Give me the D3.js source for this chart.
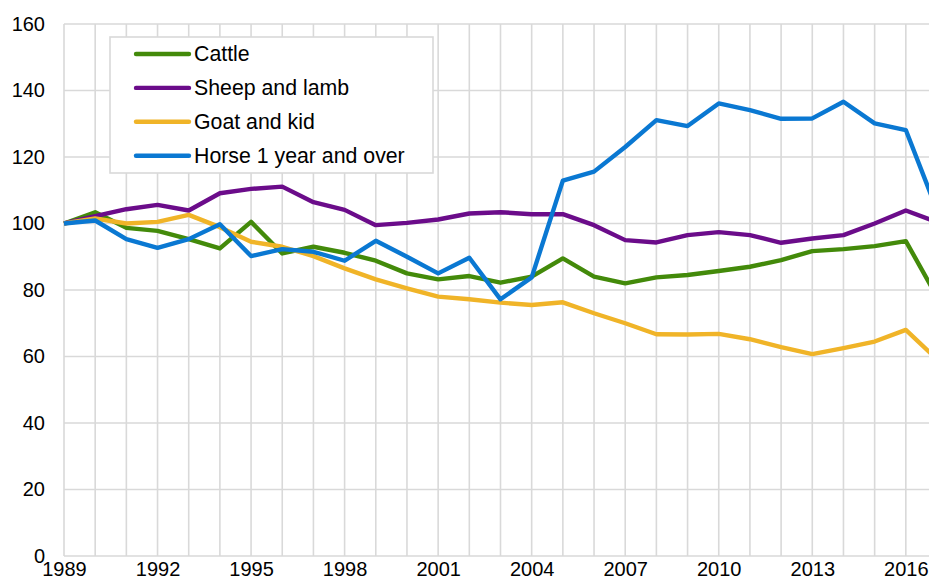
<!DOCTYPE html>
<html>
<head>
<meta charset="utf-8">
<script src="https://cdn.jsdelivr.net/npm/d3@7"></script>
<style>
  html, body { margin: 0; padding: 0; background: #fff; overflow: hidden; }
  svg { display: block; font-family: "Liberation Sans", Arial, sans-serif; }
</style>
</head>
<body>
<svg id="chart" width="929" height="581"></svg>
<script>
const years = d3.range(1989, 2018);
const xTickLabels = [1989, 1992, 1995, 1998, 2001, 2004, 2007, 2010, 2013, 2016];
const yTicks = [0, 20, 40, 60, 80, 100, 120, 140, 160];

const seriesNames = ["Cattle", "Sheep and lamb", "Goat and kid", "Horse 1 year and over"];
const seriesColors = ["#438a0a", "#6b0c8a", "#f0b428", "#0a78d2"];

const cattle = [100, 103.4, 98.7, 97.8, 95.3, 92.5, 100.5, 91.0, 93.0, 91.2, 88.8, 85.0, 83.2, 84.2, 82.2, 84.0, 89.5, 84.0, 82.0, 83.8, 84.5, 85.7, 87.0, 89.0, 91.7, 92.3, 93.2, 94.7, 78.0];
const sheep = [100, 102.2, 104.3, 105.6, 103.9, 109.1, 110.4, 111.1, 106.4, 104.1, 99.5, 100.2, 101.2, 103.0, 103.4, 102.8, 102.8, 99.5, 95.0, 94.3, 96.5, 97.4, 96.5, 94.2, 95.5, 96.5, 100.0, 103.9, 100.4];
const goat = [100, 101.5, 100.0, 100.5, 102.6, 98.9, 94.5, 93.0, 90.2, 86.5, 83.2, 80.5, 78.0, 77.2, 76.2, 75.5, 76.3, 73.0, 70.0, 66.7, 66.6, 66.8, 65.2, 62.8, 60.7, 62.5, 64.5, 68.0, 59.2];
const horse = [100, 100.9, 95.3, 92.7, 95.3, 99.8, 90.2, 92.3, 91.5, 88.8, 94.8, 90.0, 85.0, 89.7, 77.2, 83.8, 112.9, 115.6, 123.0, 131.1, 129.3, 136.1, 134.1, 131.5, 131.6, 136.6, 130.1, 128.1, 104.0];

const seriesValues = [cattle, sheep, goat, horse];

const svg = d3.select("#chart");
const x = d3.scaleLinear().domain([1989, 2017]).range([64, 937]);
const y = d3.scaleLinear().domain([0, 160]).range([556, 24]);
const gridColor = "#d9d9d9";

// vertical gridlines
svg.append("g").selectAll("line").data(years).join("line")
  .attr("x1", d => x(d)).attr("x2", d => x(d))
  .attr("y1", y(160)).attr("y2", y(0))
  .attr("stroke", gridColor).attr("stroke-width", 1.6);

// horizontal gridlines
svg.append("g").selectAll("line").data(yTicks).join("line")
  .attr("x1", x(1989)).attr("x2", 929)
  .attr("y1", d => y(d)).attr("y2", d => y(d))
  .attr("stroke", gridColor).attr("stroke-width", 1.6);

// y axis labels
const yAxis = d3.axisLeft(y).tickValues(yTicks).tickSize(0).tickPadding(19);
const gy = svg.append("g").attr("transform", `translate(${x(1989)},0)`).call(yAxis);
gy.select(".domain").remove();
gy.selectAll("text").attr("font-size", 20).attr("fill", "#000")
  .attr("font-family", "Liberation Sans, Arial, sans-serif");

// x axis labels
const xAxis = d3.axisBottom(x).tickValues(xTickLabels).tickFormat(d3.format("d")).tickSize(0).tickPadding(6);
const gx = svg.append("g").attr("transform", `translate(0,${y(0)})`).call(xAxis);
gx.select(".domain").remove();
gx.selectAll("text").attr("font-size", 20).attr("fill", "#000")
  .attr("font-family", "Liberation Sans, Arial, sans-serif");

// lines
const line = d3.line().x((d, i) => x(years[i])).y(d => y(d));
svg.append("g").selectAll("path").data(seriesValues).join("path")
  .attr("d", d => line(d))
  .attr("fill", "none")
  .attr("stroke", (d, i) => seriesColors[i])
  .attr("stroke-width", 4.4)
  .attr("stroke-linejoin", "round");

// legend
const lg = svg.append("g");
lg.append("rect").attr("x", 110).attr("y", 37).attr("width", 323).attr("height", 136)
  .attr("fill", "#fff").attr("stroke", gridColor).attr("stroke-width", 1.6);
const items = lg.selectAll("g.item").data(seriesNames).join("g").attr("class", "item")
  .attr("transform", (d, i) => `translate(0,${54 + i * 33.9})`);
items.append("line").attr("x1", 136).attr("x2", 189).attr("y1", 0).attr("y2", 0)
  .attr("stroke", (d, i) => seriesColors[i]).attr("stroke-width", 4.4).attr("stroke-linecap", "round");
items.append("text").attr("x", 194).attr("y", 0).attr("dy", "0.35em")
  .attr("font-size", 21.3).attr("fill", "#000").text(d => d);
</script>
</body>
</html>
